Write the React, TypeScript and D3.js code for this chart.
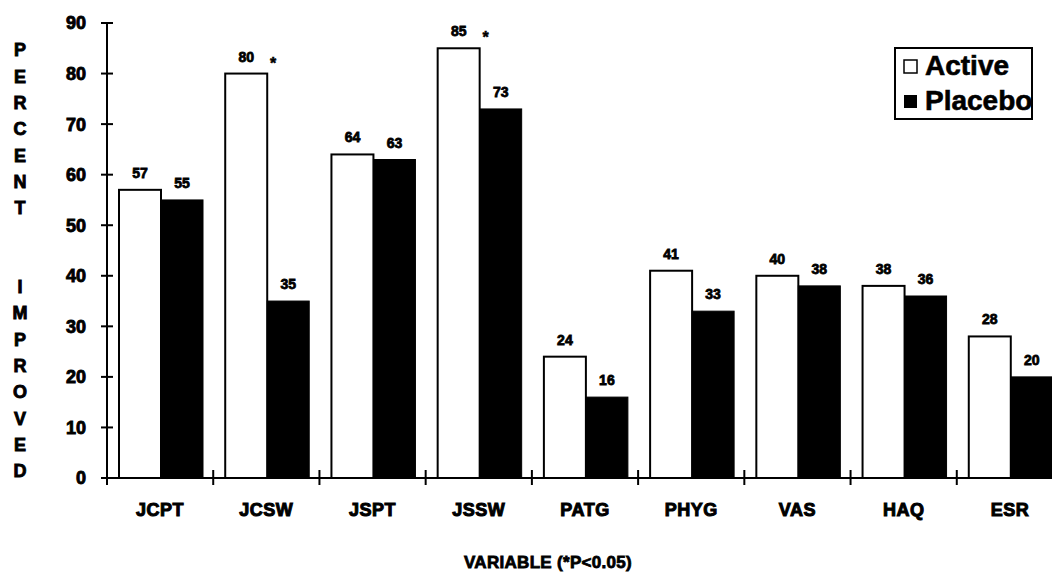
import React from "react";
import * as d3 from "d3";

const categories = ["JCPT", "JCSW", "JSPT", "JSSW", "PATG", "PHYG", "VAS", "HAQ", "ESR"];
const activeValues = [57, 80, 64, 85, 24, 41, 40, 38, 28];
const placeboValues = [55, 35, 63, 73, 16, 33, 38, 36, 20];
const significant = ["JCSW", "JSSW"];
const seriesNames = ["Active", "Placebo"];
const yTicks = [0, 10, 20, 30, 40, 50, 60, 70, 80, 90];
const yTitleTop = "PERCENT";
const yTitleBottom = "IMPROVED";
const xTitle = "VARIABLE (*P<0.05)";

const W = 1052;
const H = 573;
const FONT = "'Liberation Sans', Arial, Helvetica, sans-serif";

export default function App() {
  const x0 = d3.scaleBand<string>().domain(categories).range([107, 1063]).paddingInner(0).paddingOuter(0);
  const x1 = d3.scaleBand<string>().domain(seriesNames).range([12, 96]);
  const y = d3.scaleLinear().domain([0, 90]).range([478, 23]);

  const rows = categories.map((c, i) => ({ c, a: activeValues[i], p: placeboValues[i] }));
  const letters = [...yTitleTop.split(""), " ", " ", ...yTitleBottom.split("")];

  return (
    <svg width={W} height={H} style={{ position: "absolute", left: 0, top: 0, background: "#fff" }} fontFamily={FONT}>
      <rect x={0} y={0} width={W} height={H} fill="#fff" />
      {/* Y title vertical letters */}
      {letters.map((l, i) => (
        <text key={i} x={20} y={50 + i * 26.3} dy="0.36em" textAnchor="middle" fontSize={18} fontWeight="bold" stroke="#000" strokeWidth={0.9}>
          {l}
        </text>
      ))}
      {/* Y axis */}
      <line x1={107} x2={107} y1={y(90)} y2={y(0) + 7} stroke="#000" strokeWidth={2} />
      {yTicks.map((t) => (
        <g key={t}>
          <line x1={101} x2={113} y1={y(t)} y2={y(t)} stroke="#000" strokeWidth={2} />
          <text x={86} y={y(t)} dy="0.36em" textAnchor="end" fontSize={18} fontWeight="bold" stroke="#000" strokeWidth={0.9}>
            {t}
          </text>
        </g>
      ))}
      {/* bars */}
      {rows.map((r) => {
        const gx = x0(r.c)!;
        const ax = gx + x1("Active")!;
        const px = gx + x1("Placebo")!;
        const bw = x1.bandwidth();
        return (
          <g key={r.c}>
            <rect x={ax} y={y(r.a)} width={bw} height={y(0) - y(r.a)} fill="#fff" stroke="#000" strokeWidth={2} />
            <rect x={px} y={y(r.p)} width={bw} height={y(0) - y(r.p)} fill="#000" stroke="#000" strokeWidth={1} />
            <text x={ax + bw / 2} y={y(r.a) - 12} textAnchor="middle" fontSize={14} fontWeight="bold" stroke="#000" strokeWidth={0.8}>
              {r.a}
            </text>
            <text x={px + bw / 2} y={y(r.p) - 12} textAnchor="middle" fontSize={14} fontWeight="bold" stroke="#000" strokeWidth={0.8}>
              {r.p}
            </text>
            {significant.includes(r.c) && (
              <text x={px + 6} y={y(r.a) - 12} dy="0.45em" textAnchor="middle" fontSize={16} fontWeight="bold" stroke="#000" strokeWidth={0.5}>
                *
              </text>
            )}
          </g>
        );
      })}
      {/* X axis */}
      <line x1={103} x2={1063} y1={y(0)} y2={y(0)} stroke="#000" strokeWidth={2} />
      {categories.map((c) => (
        <g key={c}>
          <line x1={x0(c)!} x2={x0(c)!} y1={y(0) - 8} y2={y(0) + 7} stroke="#000" strokeWidth={2} />
          <text x={x0(c)! + x0.bandwidth() / 2} y={510} dy="0.36em" textAnchor="middle" fontSize={18} fontWeight="bold" stroke="#000" strokeWidth={1} letterSpacing={0.5}>
            {c}
          </text>
        </g>
      ))}
      <text x={548} y={568} textAnchor="middle" fontSize={17} fontWeight="bold" stroke="#000" strokeWidth={0.8} letterSpacing={0.3}>
        {xTitle}
      </text>
      {/* Legend */}
      <rect x={895} y={48} width={137} height={71} fill="#fff" stroke="#000" strokeWidth={2} />
      <rect x={904} y={60} width={13} height={13} fill="#fff" stroke="#000" strokeWidth={1.5} />
      <text x={925} y={75} fontSize={28} fontWeight="bold" stroke="#000" strokeWidth={0.6}>
        {seriesNames[0]}
      </text>
      <rect x={904} y={95} width={13} height={13} fill="#000" />
      <text x={925} y={110} fontSize={28} fontWeight="bold" stroke="#000" strokeWidth={0.6}>
        {seriesNames[1]}
      </text>
    </svg>
  );
}
